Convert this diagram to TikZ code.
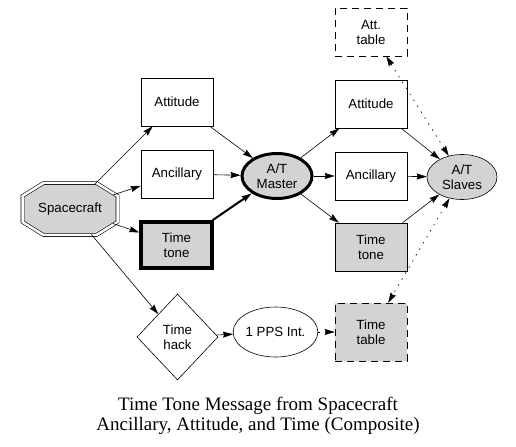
\documentclass[tikz,border=0pt]{standalone}
\usepackage{fontspec}
\setmainfont{Liberation Sans}
\newfontfamily\captionfont{Liberation Serif}
\usetikzlibrary{arrows.meta}
\usetikzlibrary{shapes.geometric}
\definecolor{boxgray}{RGB}{211,211,211}
\newcommand{\nodesize}{\fontsize{13.3bp}{15bp}\selectfont}
\tikzset{
    >={Stealth[length=10bp,width=6bp,inset=1bp]},
    block/.style={draw=black, rectangle, line width=.6bp, minimum width=72bp,
        minimum height=48bp, inner sep=0pt, align=center, font=\nodesize},
    grayblock/.style={block, fill=boxgray},
    toneblock/.style={grayblock, line width=3.5bp, minimum width=71bp, minimum height=46bp},
    tableblock/.style={block, dash pattern=on 7bp off 5bp},
    master/.style={draw=black, ellipse, fill=boxgray, line width=3bp, minimum width=70bp,
        minimum height=45bp, inner sep=0pt, align=center, font=\nodesize},
    slaves/.style={master, line width=.6bp},
    pps/.style={slaves, fill=white, minimum width=75bp, minimum height=50bp},
    craft/.style={ellipse, minimum width=100bp, minimum height=56bp, inner sep=0pt, font=\nodesize},
    craftline/.style={draw=black, line width=.6bp, double, double distance=2.5bp, fill=boxgray},
    hack/.style={diamond, draw=black, line width=.6bp, minimum width=81bp, minimum height=86bp,
        inner sep=0pt, align=center, font=\nodesize},
    flow/.style={draw=black, line width=.6bp, ->},
    thickflow/.style={flow, line width=2bp},
    dotflow/.style={flow, dash pattern=on 1.5bp off 5.5bp},
    dotboth/.style={dotflow, <->},
}

\begin{document}
\begin{tikzpicture}[x=1bp, y=-1bp]
    \useasboundingbox (0,0) rectangle (516,447);
    % left column
    \coordinate (craftc) at (70,209);
    \draw[craftline, shift={(craftc)}] (-47.5,-13) -- (-26.5,-26) -- (26.5,-26) -- (47.5,-13)
        -- (47.5,13) -- (26.5,26) -- (-26.5,26) -- (-47.5,13) -- cycle;
    \node[craft] (craft) at (craftc) {Spacecraft};
    \node[block] (attL) at (177,102) {Attitude};
    \node[block] (ancL) at (177,174) {Ancillary};
    \node[toneblock] (toneL) at (176.5,245) {Time\\tone};
    \node[hack] (hack) at (177.5,337) {Time\\hack};
    % middle
    \node[master] (master) at (277,176) {A/T\\Master};
    \node[pps] (pps) at (275.5,332) {1 PPS Int.};
    % right column
    \node[tableblock] (atttab) at (371,32) {Att.\\table};
    \node[block] (attR) at (371,104) {Attitude};
    \node[block] (ancR) at (371,176) {Ancillary};
    \node[grayblock] (toneR) at (371,247) {Time\\tone};
    \node[tableblock, fill=boxgray, minimum height=58bp] (timetab) at (371,332) {Time\\table};
    \node[slaves] (slaves) at (462,177) {A/T\\Slaves};
    % connectors
    \draw[flow] (craft) -- (attL);
    \draw[flow] (craft) -- (ancL);
    \draw[flow] (craft) -- (toneL);
    \draw[flow] (craft) -- (hack);
    \draw[flow] (attL) -- (master);
    \draw[flow] (ancL) -- (master);
    \draw[thickflow] (toneL) -- (master);
    \draw[flow] (master) -- (attR);
    \draw[flow] (master) -- (ancR);
    \draw[flow] (master) -- (toneR);
    \draw[flow] (attR) -- (slaves);
    \draw[flow] (ancR) -- (slaves);
    \draw[flow] (toneR) -- (slaves);
    \draw[dotboth] (slaves) -- (atttab);
    \draw[dotboth] (slaves) -- (timetab);
    \draw[flow] (hack) -- (pps);
    \draw[dotflow] (pps) -- (timetab);
    % caption
    \node[font=\captionfont\fontsize{19bp}{19.5bp}\selectfont, align=center] (caption) at (258,416)
        {Time Tone Message from Spacecraft\\Ancillary, Attitude, and Time (Composite)};
\end{tikzpicture}
\end{document}
